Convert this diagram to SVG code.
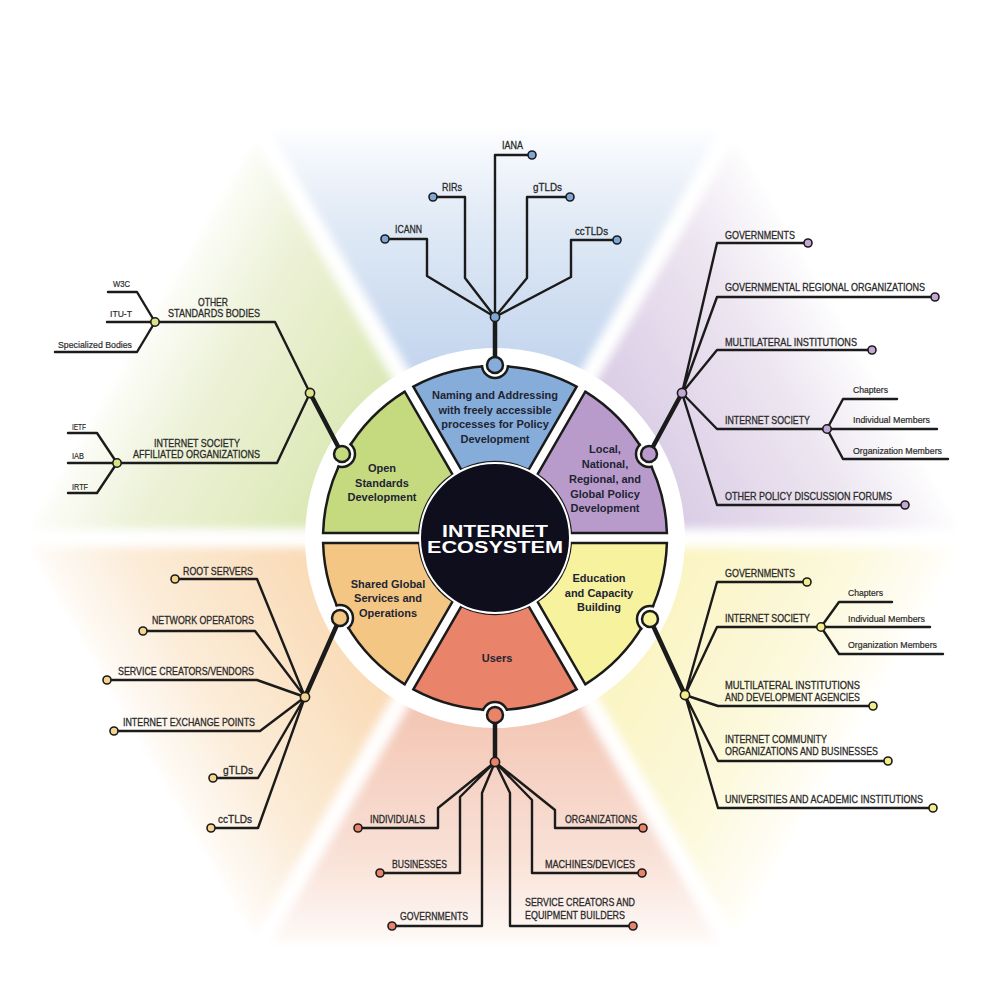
<svg xmlns="http://www.w3.org/2000/svg" width="1000" height="1000" viewBox="0 0 1000 1000">
<defs>
<style>
.ln{fill:none;stroke:#1b1b1b;stroke-width:2.4;stroke-linejoin:round;stroke-linecap:round}
.thick{fill:none;stroke:#1b1b1b;stroke-width:4.5;stroke-linecap:round}
.lbl{font-family:"Liberation Sans",Arial,sans-serif;font-size:11px;fill:#2a2a2a;stroke:#2a2a2a;stroke-width:0.3}
.sm{font-size:9.5px;stroke-width:0.2}
.seg{stroke:#1b1b1b;stroke-width:2.5}
.segt{font-family:"Liberation Sans",Arial,sans-serif;font-size:11px;font-weight:bold;fill:#1e2433;text-anchor:middle}
.dot{stroke:#1b1b1b;stroke-width:1.6}
.notch{fill:#ffffff;stroke:#1b1b1b;stroke-width:2.5}
.conn{stroke:#1b1b1b;stroke-width:2.5}
.ctr{font-family:"Liberation Sans",Arial,sans-serif;font-size:16px;font-weight:bold;fill:#ffffff}
</style>
<linearGradient id="gBlue" gradientUnits="userSpaceOnUse" x1="495" y1="538" x2="495" y2="133"><stop offset="0.42" stop-color="#c3d5ee"/><stop offset="0.8" stop-color="#e2ebf6"/><stop offset="1" stop-color="#fbfcfe"/></linearGradient>
<linearGradient id="gPurple" gradientUnits="userSpaceOnUse" x1="495" y1="538" x2="846" y2="336"><stop offset="0.42" stop-color="#dacde5"/><stop offset="0.8" stop-color="#ede6f1"/><stop offset="1" stop-color="#fdfcfd"/></linearGradient>
<linearGradient id="gGreen" gradientUnits="userSpaceOnUse" x1="495" y1="538" x2="144" y2="336"><stop offset="0.42" stop-color="#dce8b6"/><stop offset="0.8" stop-color="#edf2d8"/><stop offset="1" stop-color="#fcfdf8"/></linearGradient>
<linearGradient id="gOrange" gradientUnits="userSpaceOnUse" x1="495" y1="538" x2="144" y2="741"><stop offset="0.42" stop-color="#f9dbb6"/><stop offset="0.8" stop-color="#fcecd8"/><stop offset="1" stop-color="#fefbf7"/></linearGradient>
<linearGradient id="gRed" gradientUnits="userSpaceOnUse" x1="495" y1="538" x2="495" y2="943"><stop offset="0.42" stop-color="#f3c5b3"/><stop offset="0.8" stop-color="#f9e2d8"/><stop offset="1" stop-color="#fefaf8"/></linearGradient>
<linearGradient id="gYellow" gradientUnits="userSpaceOnUse" x1="495" y1="538" x2="846" y2="741"><stop offset="0.42" stop-color="#faf4c2"/><stop offset="0.8" stop-color="#fcf9de"/><stop offset="1" stop-color="#fffef9"/></linearGradient>
<filter id="soft" x="-10%" y="-10%" width="120%" height="120%"><feGaussianBlur stdDeviation="5"/></filter>
<clipPath id="wheelClip"><circle cx="495" cy="538" r="173.5"/></clipPath>
</defs>
<rect width="1000" height="1000" fill="#ffffff"/>

<g id="background" filter="url(#soft)">
<polygon points="495,538 729,133 261,133" fill="url(#gBlue)"/>
<polygon points="495,538 963,538 729,133" fill="url(#gPurple)"/>
<polygon points="495,538 261,133 27,538" fill="url(#gGreen)"/>
<polygon points="495,538 27,538 261,943" fill="url(#gOrange)"/>
<polygon points="495,538 261,943 729,943" fill="url(#gRed)"/>
<polygon points="495,538 729,943 963,538" fill="url(#gYellow)"/>
<g stroke="#ffffff" stroke-width="18">
<line x1="495" y1="538" x2="729" y2="133"/>
<line x1="495" y1="538" x2="261" y2="133"/>
<line x1="495" y1="538" x2="20" y2="538"/>
<line x1="495" y1="538" x2="970" y2="538"/>
<line x1="495" y1="538" x2="261" y2="943"/>
<line x1="495" y1="538" x2="729" y2="943"/>
</g>
</g>
<circle cx="495" cy="538" r="190" fill="#ffffff"/>

<g id="connectors">
<path class="thick" d="M495,365 L495,317"/>
<path class="ln" d="M495,317 V155 H532 M495,317 L465,278 V197 H433 M495,317 L427,276 V239 H385 M495,317 L527,278 V197 H570 M495,317 L571,277 V240 H617"/>
<path class="thick" d="M649,454 L682,393"/>
<path class="ln" d="M682,393 L717,243 H808 M682,393 L717,297 H935 M682,393 L717,350 H872 M682,393 L717,429 H827 M827,429 L843,399 H897 M827,429 H937 M827,429 L843,459 H948 M682,393 L717,505 H905"/>
<path class="thick" d="M342,454 L310,393"/>
<path class="ln" d="M310,393 L275,322 H155 M155,322 L137,292 H108 M155,322 H107 M155,322 L137,352 H55 M310,393 L277,463 H117 M117,463 L97,433 H68 M117,463 H68 M117,463 L97,493 H68"/>
<path class="thick" d="M340,618 L305,697"/>
<path class="ln" d="M305,697 L257,579 H175 M305,697 L255,631 H143 M305,697 L257,680 H107 M305,697 L260,731 H114 M305,697 L258,778 H213 M305,697 L258,828 H211"/>
<path class="thick" d="M650,619 L685,695"/>
<path class="ln" d="M685,695 L717,582 H807 M685,695 L717,627 H821 M821,627 L839,602 H892 M821,627 H930 M821,627 L839,654 H943 M685,695 L718,706 H873 M685,695 L718,761 H888 M685,695 L718,808 H933"/>
<path class="thick" d="M495,715 L495,762"/>
<path class="ln" d="M495,762 L438,808 V828 H358 M495,762 L460,797 V873 H380 M495,762 L482,793 V926 H392 M495,762 L510,793 V926 H633 M495,762 L532,800 V873 H642 M495,762 L555,810 V828 H643"/>
<g class="dot">
<circle cx="495" cy="317" r="4.6" fill="#7ea7d8"/>
<circle cx="682" cy="393" r="4.6" fill="#c4a8d4"/>
<circle cx="827" cy="429" r="4.2" fill="#c4a8d4"/>
<circle cx="310" cy="393" r="4.6" fill="#dbe385"/>
<circle cx="155" cy="322" r="4.2" fill="#dbe385"/>
<circle cx="117" cy="463" r="4.2" fill="#dbe385"/>
<circle cx="305" cy="697" r="4.6" fill="#f4d48f"/>
<circle cx="685" cy="695" r="4.6" fill="#f3ee8a"/>
<circle cx="821" cy="627" r="4.2" fill="#f3ee8a"/>
<circle cx="495" cy="762" r="4.6" fill="#e8836a"/>
</g>
</g>

<g id="wheel">
<g id="node-policy">
<path class="seg" fill="#b99bcb" d="M570.84,533 L666.9,533 A172,172 0 0 0 585.28,391.63 L537.25,474.82 A76,76 0 0 1 570.84,533 Z"/>
<circle class="notch" cx="649" cy="454" r="13" clip-path="url(#wheelClip)"/>
<circle class="conn" cx="649" cy="454" r="8" fill="#b99bcb"/>
<text class="segt" x="605" y="453">Local,</text>
<text class="segt" x="605" y="468">National,</text>
<text class="segt" x="605" y="483">Regional, and</text>
<text class="segt" x="605" y="498">Global Policy</text>
<text class="segt" x="605" y="512">Development</text>
</g>
<g id="node-naming">
<path class="seg" fill="#86acd9" d="M528.59,469.82 L576.62,386.63 A172,172 0 0 0 413.38,386.63 L461.41,469.82 A76,76 0 0 1 528.59,469.82 Z"/>
<circle class="notch" cx="495" cy="365" r="13" clip-path="url(#wheelClip)"/>
<circle class="conn" cx="495" cy="365" r="8" fill="#86acd9"/>
<text class="segt" x="495" y="399">Naming and Addressing</text>
<text class="segt" x="495" y="414">with freely accessible</text>
<text class="segt" x="495" y="428">processes for Policy</text>
<text class="segt" x="495" y="443">Development</text>
</g>
<g id="node-standards">
<path class="seg" fill="#c5d97f" d="M452.75,474.82 L404.72,391.63 A172,172 0 0 0 323.1,533 L419.16,533 A76,76 0 0 1 452.75,474.82 Z"/>
<circle class="notch" cx="342" cy="454" r="13" clip-path="url(#wheelClip)"/>
<circle class="conn" cx="342" cy="454" r="8" fill="#c5d97f"/>
<text class="segt" x="382" y="472">Open</text>
<text class="segt" x="382" y="487">Standards</text>
<text class="segt" x="382" y="501">Development</text>
</g>
<g id="node-services">
<path class="seg" fill="#f3c783" d="M419.16,543 L323.1,543 A172,172 0 0 0 404.72,684.37 L452.75,601.18 A76,76 0 0 1 419.16,543 Z"/>
<circle class="notch" cx="340" cy="618" r="13" clip-path="url(#wheelClip)"/>
<circle class="conn" cx="340" cy="618" r="8" fill="#f3c783"/>
<text class="segt" x="388" y="588">Shared Global</text>
<text class="segt" x="388" y="602">Services and</text>
<text class="segt" x="388" y="617">Operations</text>
</g>
<g id="node-users">
<path class="seg" fill="#e9836a" d="M461.41,606.18 L413.38,689.37 A172,172 0 0 0 576.62,689.37 L528.59,606.18 A76,76 0 0 1 461.41,606.18 Z"/>
<circle class="notch" cx="495" cy="715" r="13" clip-path="url(#wheelClip)"/>
<circle class="conn" cx="495" cy="715" r="8" fill="#e9836a"/>
<text class="segt" x="497" y="662">Users</text>
</g>
<g id="node-education">
<path class="seg" fill="#f7f29d" d="M537.25,601.18 L585.28,684.37 A172,172 0 0 0 666.9,543 L570.84,543 A76,76 0 0 1 537.25,601.18 Z"/>
<circle class="notch" cx="650" cy="619" r="13" clip-path="url(#wheelClip)"/>
<circle class="conn" cx="650" cy="619" r="8" fill="#f7f29d"/>
<text class="segt" x="599" y="582">Education</text>
<text class="segt" x="599" y="597">and Capacity</text>
<text class="segt" x="599" y="611">Building</text>
</g>
<g id="node-center">
<circle cx="495" cy="538" r="75" fill="#0e0e1c" stroke="#ffffff" stroke-width="2"/>
<text class="ctr" x="442" y="537" textLength="106" lengthAdjust="spacingAndGlyphs">INTERNET</text>
<text class="ctr" x="427" y="553" textLength="136" lengthAdjust="spacingAndGlyphs">ECOSYSTEM</text>
</g>
</g>

<g id="leaves-naming">
<g id="leaf-iana"><text class="lbl" x="502" y="149" textLength="21" lengthAdjust="spacingAndGlyphs">IANA</text><circle class="dot" cx="532" cy="155" r="4" fill="#7ea7d8"/></g>
<g id="leaf-rirs"><text class="lbl" x="442" y="191" textLength="20" lengthAdjust="spacingAndGlyphs">RIRs</text><circle class="dot" cx="433" cy="197" r="4" fill="#7ea7d8"/></g>
<g id="leaf-icann"><text class="lbl" x="395" y="233" textLength="27" lengthAdjust="spacingAndGlyphs">ICANN</text><circle class="dot" cx="385" cy="239" r="4" fill="#7ea7d8"/></g>
<g id="leaf-gtlds-top"><text class="lbl" x="533" y="191" textLength="29" lengthAdjust="spacingAndGlyphs">gTLDs</text><circle class="dot" cx="570" cy="197" r="4" fill="#7ea7d8"/></g>
<g id="leaf-cctlds-top"><text class="lbl" x="575" y="235" textLength="33" lengthAdjust="spacingAndGlyphs">ccTLDs</text><circle class="dot" cx="617" cy="240" r="4" fill="#7ea7d8"/></g>
</g>

<g id="leaves-policy">
<g id="leaf-gov-p"><text class="lbl" x="725" y="239" textLength="70" lengthAdjust="spacingAndGlyphs">GOVERNMENTS</text><circle class="dot" cx="808" cy="243" r="4" fill="#c4a8d4"/></g>
<g id="leaf-gro"><text class="lbl" x="725" y="291" textLength="200" lengthAdjust="spacingAndGlyphs">GOVERNMENTAL REGIONAL ORGANIZATIONS</text><circle class="dot" cx="935" cy="297" r="4" fill="#c4a8d4"/></g>
<g id="leaf-mi"><text class="lbl" x="725" y="346" textLength="132" lengthAdjust="spacingAndGlyphs">MULTILATERAL INSTITUTIONS</text><circle class="dot" cx="872" cy="350" r="4" fill="#c4a8d4"/></g>
<g id="leaf-isoc-p"><text class="lbl" x="725" y="424" textLength="85" lengthAdjust="spacingAndGlyphs">INTERNET SOCIETY</text></g>
<g id="leaf-chap-p"><text class="lbl sm" x="853" y="393" textLength="35" lengthAdjust="spacingAndGlyphs">Chapters</text></g>
<g id="leaf-ind-p"><text class="lbl sm" x="853" y="423" textLength="77" lengthAdjust="spacingAndGlyphs">Individual Members</text></g>
<g id="leaf-org-p"><text class="lbl sm" x="853" y="454" textLength="89" lengthAdjust="spacingAndGlyphs">Organization Members</text></g>
<g id="leaf-opdf"><text class="lbl" x="725" y="500" textLength="167" lengthAdjust="spacingAndGlyphs">OTHER POLICY DISCUSSION FORUMS</text><circle class="dot" cx="905" cy="505" r="4" fill="#c4a8d4"/></g>
</g>

<g id="leaves-standards">
<g id="leaf-osb"><text class="lbl" x="198" y="306" textLength="30" lengthAdjust="spacingAndGlyphs">OTHER</text><text class="lbl" x="168" y="317" textLength="92" lengthAdjust="spacingAndGlyphs">STANDARDS BODIES</text></g>
<g id="leaf-w3c"><text class="lbl sm" x="113" y="287" textLength="17" lengthAdjust="spacingAndGlyphs">W3C</text></g>
<g id="leaf-itut"><text class="lbl sm" x="110" y="317" textLength="22" lengthAdjust="spacingAndGlyphs">ITU-T</text></g>
<g id="leaf-spec"><text class="lbl sm" x="58" y="348" textLength="74" lengthAdjust="spacingAndGlyphs">Specialized Bodies</text></g>
<g id="leaf-isao"><text class="lbl" x="154" y="447" textLength="86" lengthAdjust="spacingAndGlyphs">INTERNET SOCIETY</text><text class="lbl" x="133" y="458" textLength="127" lengthAdjust="spacingAndGlyphs">AFFILIATED ORGANIZATIONS</text></g>
<g id="leaf-ietf"><text class="lbl sm" x="72" y="430" textLength="14" lengthAdjust="spacingAndGlyphs">IETF</text></g>
<g id="leaf-iab"><text class="lbl sm" x="72" y="459" textLength="12" lengthAdjust="spacingAndGlyphs">IAB</text></g>
<g id="leaf-irtf"><text class="lbl sm" x="72" y="490" textLength="16" lengthAdjust="spacingAndGlyphs">IRTF</text></g>
</g>

<g id="leaves-services">
<g id="leaf-root"><text class="lbl" x="183" y="575" textLength="70" lengthAdjust="spacingAndGlyphs">ROOT SERVERS</text><circle class="dot" cx="175" cy="579" r="4" fill="#f4d48f"/></g>
<g id="leaf-netop"><text class="lbl" x="152" y="624" textLength="102" lengthAdjust="spacingAndGlyphs">NETWORK OPERATORS</text><circle class="dot" cx="143" cy="631" r="4" fill="#f4d48f"/></g>
<g id="leaf-scv"><text class="lbl" x="118" y="675" textLength="136" lengthAdjust="spacingAndGlyphs">SERVICE CREATORS/VENDORS</text><circle class="dot" cx="107" cy="680" r="4" fill="#f4d48f"/></g>
<g id="leaf-ixp"><text class="lbl" x="123" y="726" textLength="132" lengthAdjust="spacingAndGlyphs">INTERNET EXCHANGE POINTS</text><circle class="dot" cx="114" cy="731" r="4" fill="#f4d48f"/></g>
<g id="leaf-gtlds"><text class="lbl" x="223" y="774" textLength="30" lengthAdjust="spacingAndGlyphs">gTLDs</text><circle class="dot" cx="213" cy="778" r="4" fill="#f4d48f"/></g>
<g id="leaf-cctlds"><text class="lbl" x="218" y="823" textLength="34" lengthAdjust="spacingAndGlyphs">ccTLDs</text><circle class="dot" cx="211" cy="828" r="4" fill="#f4d48f"/></g>
</g>

<g id="leaves-education">
<g id="leaf-gov-e"><text class="lbl" x="725" y="577" textLength="70" lengthAdjust="spacingAndGlyphs">GOVERNMENTS</text><circle class="dot" cx="807" cy="582" r="4" fill="#f3ee8a"/></g>
<g id="leaf-isoc-e"><text class="lbl" x="725" y="622" textLength="85" lengthAdjust="spacingAndGlyphs">INTERNET SOCIETY</text></g>
<g id="leaf-chap-e"><text class="lbl sm" x="848" y="596" textLength="35" lengthAdjust="spacingAndGlyphs">Chapters</text></g>
<g id="leaf-ind-e"><text class="lbl sm" x="848" y="622" textLength="77" lengthAdjust="spacingAndGlyphs">Individual Members</text></g>
<g id="leaf-org-e"><text class="lbl sm" x="848" y="648" textLength="89" lengthAdjust="spacingAndGlyphs">Organization Members</text></g>
<g id="leaf-mida"><text class="lbl" x="725" y="689" textLength="135" lengthAdjust="spacingAndGlyphs">MULTILATERAL INSTITUTIONS</text><text class="lbl" x="725" y="701" textLength="135" lengthAdjust="spacingAndGlyphs">AND DEVELOPMENT AGENCIES</text><circle class="dot" cx="873" cy="706" r="4" fill="#f3ee8a"/></g>
<g id="leaf-icob"><text class="lbl" x="725" y="743" textLength="102" lengthAdjust="spacingAndGlyphs">INTERNET COMMUNITY</text><text class="lbl" x="725" y="755" textLength="153" lengthAdjust="spacingAndGlyphs">ORGANIZATIONS AND BUSINESSES</text><circle class="dot" cx="888" cy="761" r="4" fill="#f3ee8a"/></g>
<g id="leaf-uni"><text class="lbl" x="725" y="803" textLength="198" lengthAdjust="spacingAndGlyphs">UNIVERSITIES AND ACADEMIC INSTITUTIONS</text><circle class="dot" cx="933" cy="808" r="4" fill="#f3ee8a"/></g>
</g>

<g id="leaves-users">
<g id="leaf-ind"><text class="lbl" x="370" y="823" textLength="55" lengthAdjust="spacingAndGlyphs">INDIVIDUALS</text><circle class="dot" cx="358" cy="828" r="4" fill="#e8836a"/></g>
<g id="leaf-bus"><text class="lbl" x="392" y="868" textLength="55" lengthAdjust="spacingAndGlyphs">BUSINESSES</text><circle class="dot" cx="380" cy="873" r="4" fill="#e8836a"/></g>
<g id="leaf-gov-u"><text class="lbl" x="400" y="920" textLength="68" lengthAdjust="spacingAndGlyphs">GOVERNMENTS</text><circle class="dot" cx="392" cy="926" r="4" fill="#e8836a"/></g>
<g id="leaf-sceb"><text class="lbl" x="525" y="906" textLength="110" lengthAdjust="spacingAndGlyphs">SERVICE CREATORS AND</text><text class="lbl" x="525" y="919" textLength="100" lengthAdjust="spacingAndGlyphs">EQUIPMENT BUILDERS</text><circle class="dot" cx="633" cy="926" r="4" fill="#e8836a"/></g>
<g id="leaf-mach"><text class="lbl" x="545" y="868" textLength="90" lengthAdjust="spacingAndGlyphs">MACHINES/DEVICES</text><circle class="dot" cx="642" cy="873" r="4" fill="#e8836a"/></g>
<g id="leaf-org"><text class="lbl" x="565" y="823" textLength="72" lengthAdjust="spacingAndGlyphs">ORGANIZATIONS</text><circle class="dot" cx="643" cy="828" r="4" fill="#e8836a"/></g>
</g>
</svg>
